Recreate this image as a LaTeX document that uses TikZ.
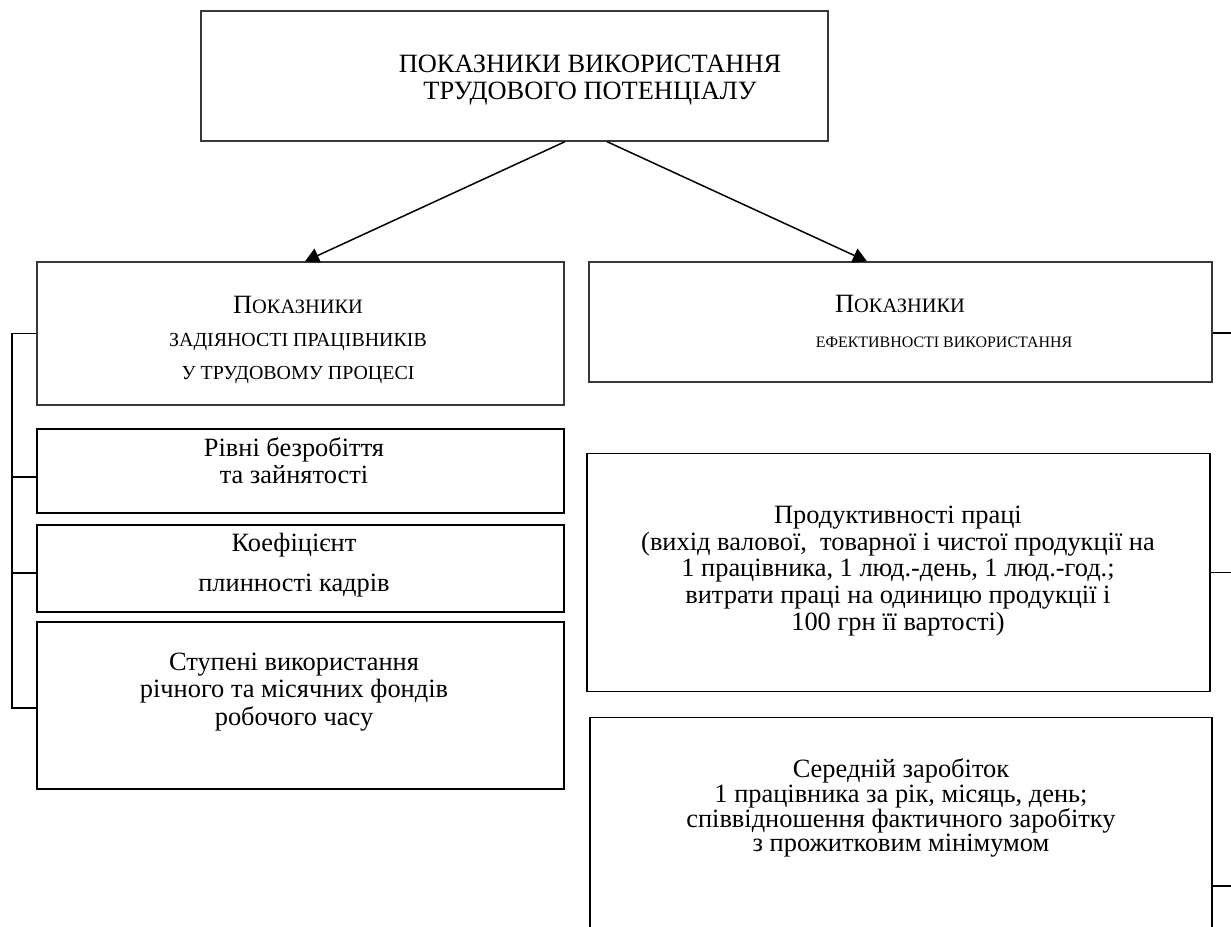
\documentclass[tikz,border=0pt]{standalone}
\usepackage{fontspec}
\setmainfont{Liberation Serif}
\usetikzlibrary{arrows.meta}
\newcommand{\fs}[2]{\fontsize{#1}{#2}\selectfont}
\begin{document}
\begin{tikzpicture}[x=1bp,y=-1bp,
  box/.style={draw=black, line width=1.8bp, rectangle, inner sep=0, minimum width=#1},
  greybox/.style={box=#1, draw=black!78},
  txt/.style={align=center, inner sep=0},
  conn/.style={line width=1.5bp, black},
  arr/.style={conn, -{Triangle[length=14bp,width=15bp]}}]
\useasboundingbox (0,0) rectangle (1231,927);
\clip (0,0) rectangle (1231,927);
% top
\node[greybox=629, minimum height=130] (top) at (514.5,76) {};
\node[txt, font=\fs{26.5}{27}] (ttop) at (590,80.5) {ПОКАЗНИКИ ВИКОРИСТАННЯ\\ТРУДОВОГО ПОТЕНЦІАЛУ};
% left column
\node[greybox=529, minimum height=143] (b1) at (300.5,333.5) {};
\node[txt, font=\fs{26.5}{33}] (tb1) at (298,340) {П{\fs{20.5}{33}ОКАЗНИКИ}\\{\fs{20}{33}ЗАДІЯНОСТІ ПРАЦІВНИКІВ}\\{\fs{20}{33}У ТРУДОВОМУ ПРОЦЕСІ}};
\node[box=529, minimum height=84] (b2) at (300.5,471) {};
\node[txt, font=\fs{26.5}{27}] (tb2) at (294,461) {Рівні безробіття\\та зайнятості};
\node[box=529, minimum height=87] (b3) at (300.5,568.5) {};
\node[txt, font=\fs{26.5}{40}] (tb3) at (294,565) {Коефіцієнт\\плинності кадрів};
\node[box=529, minimum height=167] (b4) at (300.5,705.5) {};
\node[txt, font=\fs{26.5}{27.5}] (tb4) at (294,692) {Ступені використання\\річного та місячних фондів\\робочого часу};
% right column
\node[greybox=625, minimum height=120] (r1) at (900.5,322) {};
\node[txt, font=\fs{26.5}{35}] (tr1) at (900,321) {П{\fs{20.5}{35}ОКАЗНИКИ}\\\hspace*{88bp}{\fs{16}{35}ЕФЕКТИВНОСТІ ВИКОРИСТАННЯ}};
\node[box=625, minimum height=239] (r2) at (898.5,572.5) {};
\node[txt, font=\fs{26.5}{27}] (tr2) at (898,571) {Продуктивності праці\\(вихід валової,\ \ товарної і чистої продукції на\\1 працівника, 1 люд.-день, 1 люд.-год.;\\витрати праці на одиницю продукції і\\100 грн її вартості)};
\node[box=624, minimum height=300] (r3) at (901,867) {};
\node[txt, font=\fs{26.5}{25}] (tr3) at (901,808) {Середній заробіток\\1 працівника за рік, місяць, день;\\співвідношення фактичного заробітку\\з прожитковим мінімумом};
% arrows
\draw[arr] ([xshift=50.5bp]top.south) -- ([xshift=4.5bp]b1.north);
\draw[arr] ([xshift=92.5bp]top.south) -- ([xshift=-33.5bp]r1.north);
% left bracket
\coordinate (lb) at (12,0);
\draw[conn] (b1.west) -- (b1.west -| lb) |- ([yshift=-2.5bp]b4.west);
\draw[conn] ([yshift=-6bp]b2.west) -- ([yshift=-6bp]b2.west -| lb);
\draw[conn] ([yshift=-4.5bp]b3.west) -- ([yshift=-4.5bp]b3.west -| lb);
% right ticks
\coordinate (rb) at (1240,0);
\draw[conn] ([yshift=-11bp]r1.east) -- ([yshift=-11bp]r1.east -| rb);
\draw[conn] (r2.east) -- (r2.east -| rb);
\draw[conn] ([yshift=-19bp]r3.east) -- ([yshift=-19bp]r3.east -| rb);
\end{tikzpicture}
\end{document}
